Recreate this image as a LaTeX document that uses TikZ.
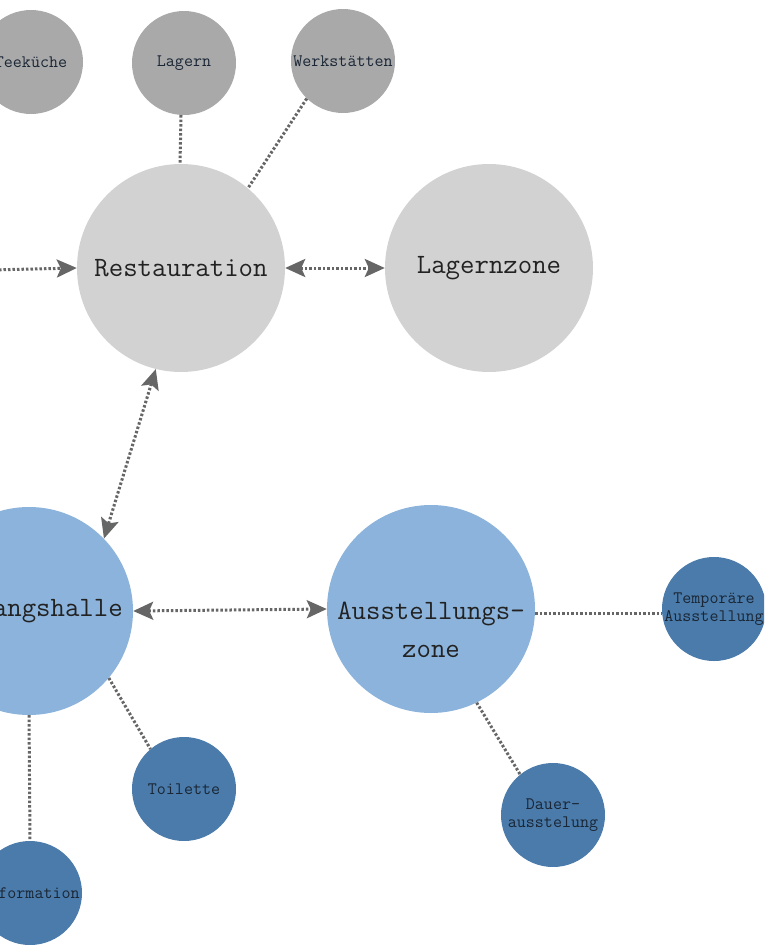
\documentclass[tikz,border=0pt]{standalone}
\usepackage{fontspec}
\usetikzlibrary{arrows.meta}
\definecolor{smallgray}{HTML}{A9A9A9}
\definecolor{biggray}{HTML}{D2D2D2}
\definecolor{lightblue}{HTML}{8BB3DB}
\definecolor{darkblue}{HTML}{4A7BAA}
\definecolor{linkgray}{HTML}{666666}
\definecolor{bigtext}{HTML}{222222}
\definecolor{smalltext}{HTML}{1A2635}
\begin{document}
\begin{tikzpicture}[x=1pt,y=-1pt,
  zone/.style={circle,inner sep=0pt,minimum size=208pt,font=\ttfamily\fontsize{28}{34}\selectfont,text=bigtext},
  room/.style={circle,inner sep=0pt,minimum size=104pt,font=\ttfamily\fontsize{17.5}{18}\selectfont,align=center,text=smalltext},
  link/.style={draw=linkgray,line width=3pt,dash pattern=on 2.5pt off 2pt},
  one/.style={link,-{Stealth[length=20pt,width=18pt,inset=4pt]}},
  both/.style={link,{Stealth[length=20pt,width=18pt,inset=4pt]}-{Stealth[length=20pt,width=18pt,inset=4pt]}}
]
\useasboundingbox (0,0) rectangle (764,945);
\clip (0,0) rectangle (764,945);

% top rooms
\node[room,fill=smallgray] (tee) at (31,62) {Teeküche};
\node[room,fill=smallgray] (lag) at (184,63) {Lagern};
\node[room,fill=smallgray] (werk) at (343,61) {Werkstätten};

% zones
\node[zone,fill=biggray] (rest) at (181,268) {Restauration};
\node[zone,fill=biggray] (lz) at (489,268) {Lagernzone};
\node[zone,fill=lightblue] (eh) at (29,611) {Eingangshalle};
\node[zone,fill=lightblue,
  label={[font=\ttfamily\fontsize{28}{38}\selectfont,text=bigtext,align=center,yshift=-21pt]center:{Ausstellungs-\\zone}}] (az) at (431,609) {};

% bottom rooms
\node[room,fill=darkblue] (temp) at (714,609) {Temporäre\\Ausstellung};
\node[room,fill=darkblue] (dauer) at (553,815) {Dauer-\\ausstelung};
\node[room,fill=darkblue] (toil) at (184,789) {Toilette};
\node[room,fill=darkblue] (info) at (30,893) {Information};

% connectors
\coordinate (in) at (-10,270);
\draw[one] (in) -- (rest.west);
\draw[both] (rest.east) -- (lz.west);
\draw[both] (rest.-104.6) -- (eh.44.6);
\draw[both] (eh.east) -- (az.west);

\draw[link] ([xshift=-3pt]lag.south) -- ([xshift=-1pt]rest.north);
\draw[link] (werk.-134) -- (rest.50);
\draw[link] ([yshift=-4pt]az.east) -- ([yshift=-4pt]temp.west);
\draw[link] (az.-64) -- (dauer.129);
\draw[link] (eh.-40) -- (toil.130);
\draw[link] (eh.south) -- (info.north);
\end{tikzpicture}
\end{document}
